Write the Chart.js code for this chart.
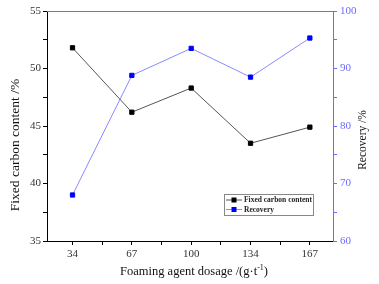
<!DOCTYPE html>
<html>
<head>
<meta charset="utf-8">
<script src="https://cdn.jsdelivr.net/npm/chart.js@4/dist/chart.umd.min.js"></script>
<style>
html, body { margin: 0; padding: 0; background: #fff; }
#wrap { width: 379px; height: 284px; }
</style>
</head>
<body>
<div id="wrap"><canvas id="chartFoam" width="379" height="284"></canvas></div>
<script>
const dosages = ['34', '67', '100', '134', '167']
const carbonData = [51.8, 46.2, 48.3, 43.5, 44.9]
const recoveryData = [68.0, 88.8, 93.5, 88.5, 95.3]
const carbonTicks = [35, 40, 45, 50, 55]
const recoveryTicks = [60, 70, 80, 90, 100]

const serif = 'Liberation Serif'
const blue = '#6b6bff'

// legend box, axis titles and the blue top frame line
const extras = {
    id: 'extras',
    afterDraw(chart) {
        const ctx = chart.ctx
        const a = chart.chartArea
        ctx.save()

        ctx.strokeStyle = blue
        ctx.lineWidth = 1
        ctx.beginPath()
        ctx.moveTo(a.left, a.top + 0.5)
        ctx.lineTo(a.right, a.top + 0.5)
        ctx.stroke()

        const x = 224, y = 194, w = 89, h = 21
        ctx.fillStyle = '#fff'
        ctx.fillRect(x, y, w, h)
        ctx.strokeStyle = '#888'
        ctx.strokeRect(x + 0.5, y + 0.5, w, h)
        ctx.font = 'bold 7.5px "' + serif + '"'
        ctx.textBaseline = 'middle'
        chart.data.datasets.forEach(function (ds, i) {
            const cy = y + 6 + i * 9.5
            ctx.strokeStyle = ds.borderColor
            ctx.beginPath()
            ctx.moveTo(x + 2, cy)
            ctx.lineTo(x + 18, cy)
            ctx.stroke()
            ctx.fillStyle = ds.pointBackgroundColor
            ctx.fillRect(x + 7.5, cy - 2.5, 5, 5)
            ctx.fillStyle = '#222'
            ctx.fillText(ds.label, x + 20, cy + 0.5)
        })

        ctx.fillStyle = '#111'
        ctx.textAlign = 'center'
        ctx.textBaseline = 'middle'
        ctx.save()
        ctx.translate(15, 145)
        ctx.rotate(-Math.PI / 2)
        ctx.font = '13.5px "' + serif + '"'
        ctx.fillText('Fixed carbon content /%', 0, 0)
        ctx.restore()

        ctx.save()
        ctx.translate(363, 140)
        ctx.rotate(-Math.PI / 2)
        ctx.font = '11.5px "' + serif + '"'
        ctx.fillText('Recovery /%', 0, 0)
        ctx.restore()

        // x title with raised "-1"
        ctx.textAlign = 'left'
        ctx.font = '12.5px "' + serif + '"'
        const main = 'Foaming agent dosage /(g·t'
        const mw = ctx.measureText(main).width
        ctx.font = '8px "' + serif + '"'
        const sw = ctx.measureText('-1').width
        ctx.font = '12.5px "' + serif + '"'
        const cw = ctx.measureText(')').width
        let tx = 194 - (mw + sw + cw) / 2
        const ty = 272
        ctx.fillText(main, tx, ty)
        tx += mw
        ctx.font = '8px "' + serif + '"'
        ctx.fillText('-1', tx, ty - 4)
        tx += sw
        ctx.font = '12.5px "' + serif + '"'
        ctx.fillText(')', tx, ty)

        ctx.restore()
    }
}

var ctxFoam = document.getElementById('chartFoam').getContext('2d');
var chartFoam = new Chart(ctxFoam, {
    type: 'line',
    data: {
        datasets: [{
            label: 'Fixed carbon content',
            data: carbonData.map(function (v, i) { return { x: i, y: v } }),
            yAxisID: 'yC',
            borderColor: '#555',
            borderWidth: 1,
            pointStyle: 'rect',
            pointRadius: 3,
            pointBackgroundColor: '#000',
            pointBorderColor: '#000'
        }, {
            label: 'Recovery',
            data: recoveryData.map(function (v, i) { return { x: i, y: v } }),
            yAxisID: 'yR',
            borderColor: '#8a8aff',
            borderWidth: 1,
            pointStyle: 'rect',
            pointRadius: 3,
            pointBackgroundColor: '#0000ff',
            pointBorderColor: '#0000ff'
        }]
    },
    options: {
        responsive: false,
        animation: false,
        layout: { padding: { top: 11, left: 0, right: 0, bottom: 0 } },
        plugins: { legend: { display: false }, tooltip: { enabled: false } },
        scales: {
            x: {
                type: 'linear',
                min: -0.43,
                max: 4.39,
                afterFit: function (s) { s.height = 43 },
                afterBuildTicks: function (s) {
                    const t = []
                    for (let i = 0; i <= 8; i++) t.push({ value: i / 2 })
                    s.ticks = t
                },
                ticks: {
                    autoSkip: false,
                    maxRotation: 0,
                    color: '#333',
                    font: { family: serif, size: 11 },
                    padding: 3,
                    callback: function (v) { return Number.isInteger(v) ? dosages[v] : '' }
                },
                grid: { drawOnChartArea: false, tickLength: 4, color: '#000' },
                border: { color: '#000', width: 1 }
            },
            yC: {
                position: 'left',
                min: 35,
                max: 55,
                afterFit: function (s) { s.width = 47 },
                afterBuildTicks: function (s) {
                    const t = []
                    for (let v = 35; v <= 55; v += 2.5) t.push({ value: v })
                    s.ticks = t
                },
                ticks: {
                    color: '#333',
                    font: { family: serif, size: 11 },
                    padding: 2,
                    callback: function (v) { return carbonTicks.includes(v) ? String(v) : '' }
                },
                grid: { drawOnChartArea: false, tickLength: 4, color: '#000' },
                border: { color: '#000', width: 1 }
            },
            yR: {
                position: 'right',
                min: 60,
                max: 100,
                afterFit: function (s) { s.width = 46 },
                afterBuildTicks: function (s) {
                    const t = []
                    for (let v = 60; v <= 100; v += 5) t.push({ value: v })
                    s.ticks = t
                },
                ticks: {
                    color: blue,
                    font: { family: serif, size: 11 },
                    padding: 3,
                    callback: function (v) { return recoveryTicks.includes(v) ? String(v) : '' }
                },
                grid: { drawOnChartArea: false, tickLength: 4, color: blue },
                border: { color: blue, width: 1 }
            }
        }
    },
    plugins: [extras]
});
</script>
</body>
</html>
